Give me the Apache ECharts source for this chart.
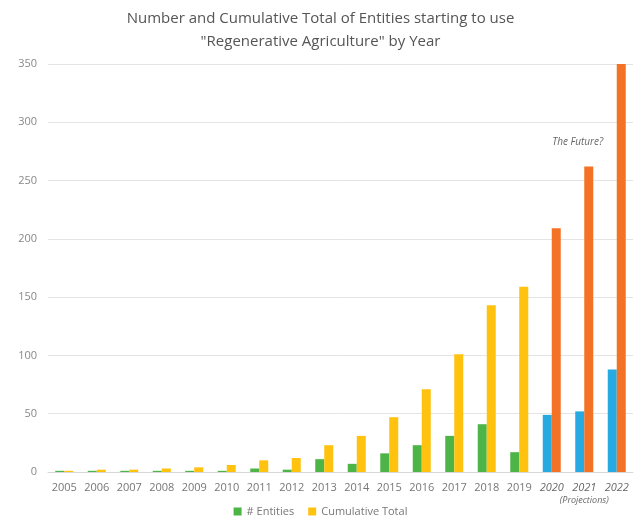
<!DOCTYPE html>
<html><head><meta charset="utf-8">
<script src="https://cdn.jsdelivr.net/npm/echarts@6/dist/echarts.min.js"></script>
<style>html,body{margin:0;padding:0;background:#fff}#c{width:641px;height:525px}</style>
</head><body><div id="c"></div>
<script>
const years = ['2005','2006','2007','2008','2009','2010','2011','2012','2013','2014','2015','2016','2017','2018','2019','2020','2021','2022'];
const entities = [1,1,1,1,1,1,3,2,11,7,16,23,31,41,17,49,52,88];
const cumulative = [1,2,2,3,4,6,10,12,23,31,47,71,101,143,159,209,262,350];
const projectionYears = ['2020','2021','2022'];
const yTicks = [0,50,100,150,200,250,300,350];

const FONT = '"Open Sans", "Noto Sans", sans-serif';
const GREEN = '#4DB547', YELLOW = '#FFC20F', BLUE = '#27AAE1', ORANGE = '#F37226';

const entData = entities.map((v,i)=>({value:v, itemStyle:{color: projectionYears.includes(years[i]) ? BLUE : GREEN}}));
const cumData = cumulative.map((v,i)=>{
  const d = {value:v, itemStyle:{color: projectionYears.includes(years[i]) ? ORANGE : YELLOW}};
  if (years[i]==='2021') d.label = {show:true, position:'top', distance:19, offset:[-11,0], formatter:'The Future?', fontStyle:'italic', fontSize:10, color:'#666', fontFamily:FONT};
  return d;
});

const chart = echarts.init(document.getElementById('c'));
chart.setOption({
  animation:false,
  backgroundColor:'#fff',
  title:{text:'Number and Cumulative Total of Entities starting to use\n"Regenerative Agriculture" by Year', left:'center', top:2,
    textStyle:{fontFamily:FONT, fontSize:15, fontWeight:'normal', color:'#555', lineHeight:23}},
  legend:{bottom:3, left:'center', itemWidth:8, itemHeight:8, itemGap:14, icon:'rect',
    textStyle:{fontFamily:FONT, fontSize:11, color:'#777'},
    data:[{name:'# Entities', itemStyle:{color:GREEN}},{name:'Cumulative Total', itemStyle:{color:YELLOW}}]},
  grid:{left:48, right:8, top:64, bottom:53},
  xAxis:{type:'category', data:years,
    axisLine:{lineStyle:{color:'#d8d8d8'}}, axisTick:{show:false},
    axisLabel:{margin:10, fontFamily:FONT, fontSize:11, color:'#777', interval:0,
      formatter:(v)=> v==='2021' ? '{i|2021}\n{p|(Projections)}' : (projectionYears.includes(v) ? '{i|'+v+'}' : v),
      rich:{i:{fontStyle:'italic', fontFamily:FONT, fontSize:11, color:'#666'},
            p:{fontStyle:'italic', fontFamily:FONT, fontSize:9, color:'#666', lineHeight:14}}}},
  yAxis:{type:'value', min:0, max:yTicks[yTicks.length-1], interval:50,
    axisLine:{show:false}, axisTick:{show:false},
    splitLine:{lineStyle:{color:'#e4e4e4'}},
    axisLabel:{margin:11, fontFamily:FONT, fontSize:11, color:'#888'}},
  series:[
    {name:'# Entities', type:'bar', data:entData, barWidth:9, barGap:'0%', itemStyle:{color:GREEN}},
    {name:'Cumulative Total', type:'bar', data:cumData, barWidth:9, barGap:'0%', itemStyle:{color:YELLOW}}
  ]
});
</script></body></html>
